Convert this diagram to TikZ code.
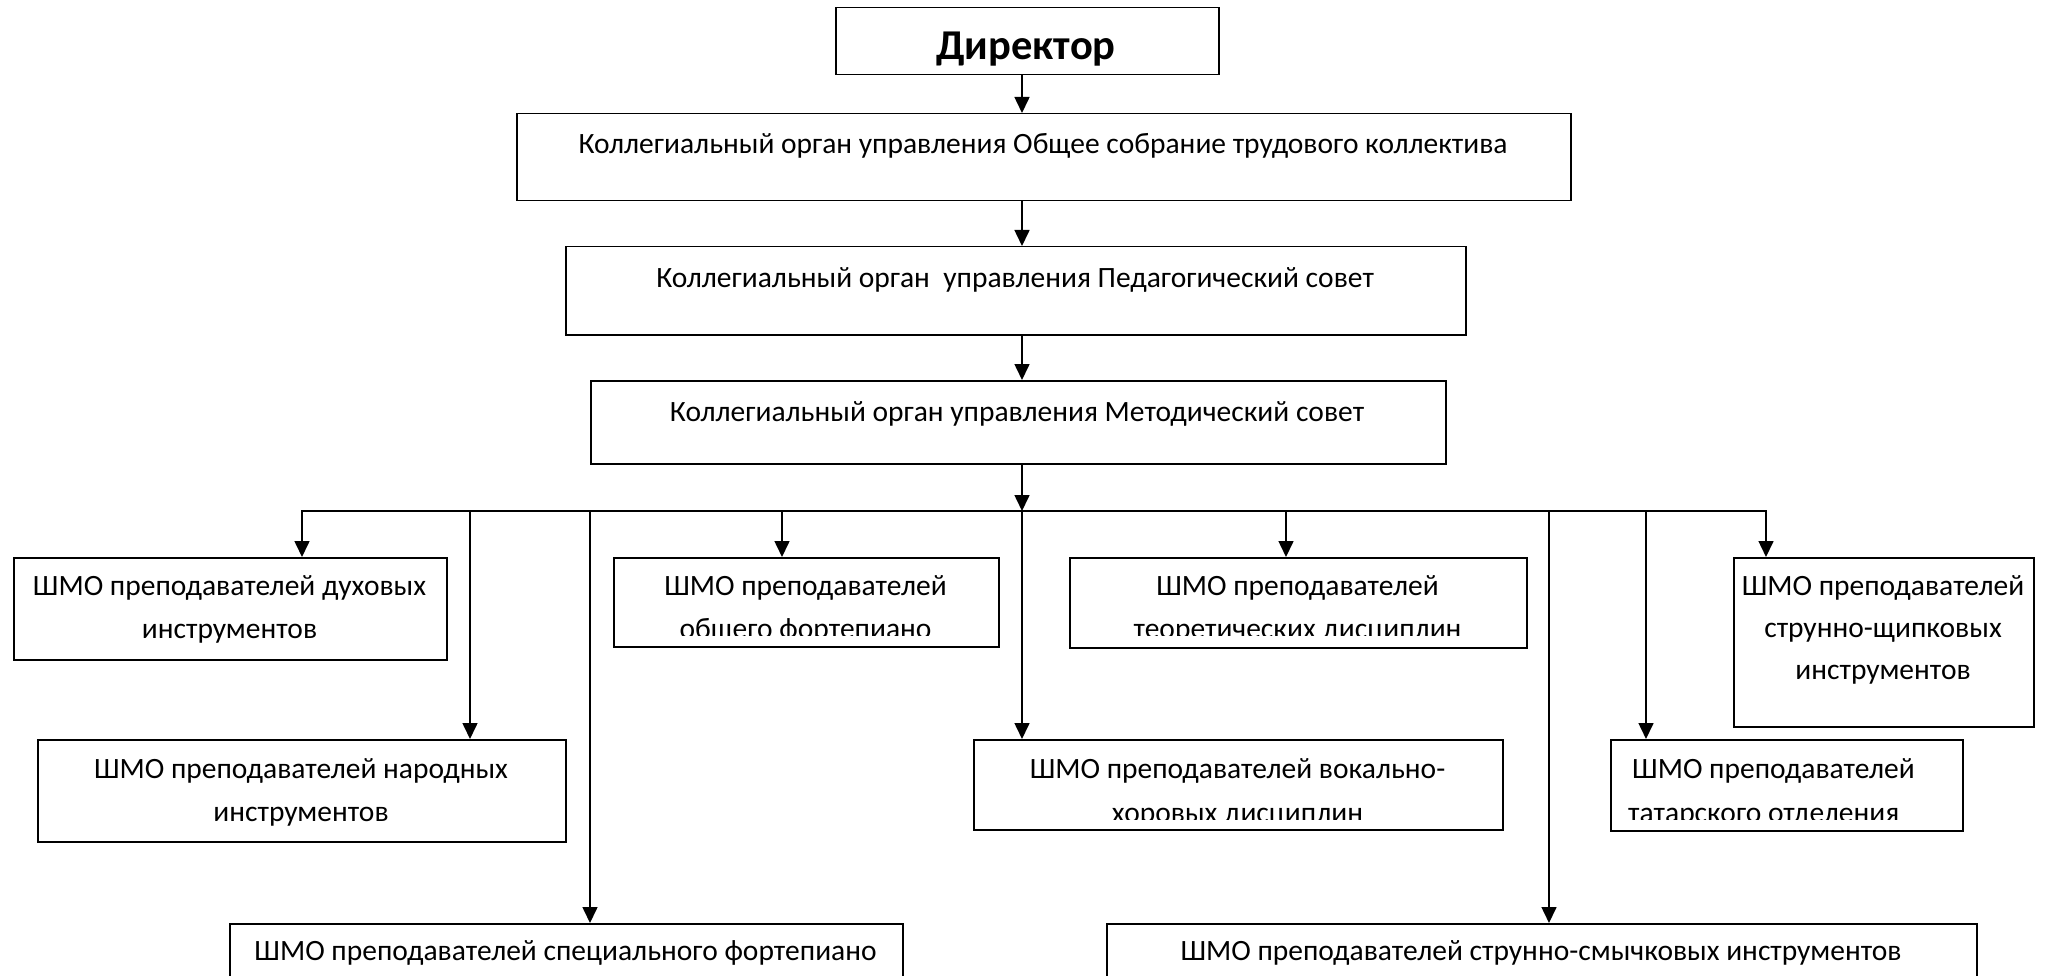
\documentclass[tikz,border=0pt]{standalone}
\usepackage{fontspec}
\setmainfont{Carlito}
\usetikzlibrary{arrows.meta}
\begin{document}
\begin{tikzpicture}[x=1pt,y=-1pt,
  box/.style={draw, line width=1.5pt, anchor=north west, inner sep=0pt},
  lbl/.style={font=\fontsize{29.5}{44}\selectfont, inner sep=0pt, anchor=base},
  arr/.style={line width=1.6pt, -{Triangle[width=15pt,length=16pt]}},
  ln/.style={line width=1.6pt, line cap=rect}]
\clip (0,0) rectangle (2045,976);
\fill[white] (0,0) rectangle (2045,976);
% boxes
\node[box, minimum width=383pt, minimum height=67pt] (dir) at (835,7) {};
\node[box, minimum width=1054pt, minimum height=87pt] (gen) at (516,113) {};
\node[box, minimum width=900pt, minimum height=88pt] (ped) at (565,246) {};
\node[box, minimum width=855pt, minimum height=83pt] (met) at (590,380) {};
\node[box, minimum width=433pt, minimum height=102pt] (duh) at (13,557) {};
\node[box, minimum width=385pt, minimum height=89pt] (obsh) at (613,557) {};
\node[box, minimum width=457pt, minimum height=90pt] (teor) at (1069,557) {};
\node[box, minimum width=300pt, minimum height=169pt] (shch) at (1733,557) {};
\node[box, minimum width=528pt, minimum height=102pt] (nar) at (37,739) {};
\node[box, minimum width=529pt, minimum height=90pt] (vok) at (973,739) {};
\node[box, minimum width=352pt, minimum height=91pt] (tat) at (1610,739) {};
\node[box, minimum width=673pt, minimum height=80pt] (spec) at (229,923) {};
\node[box, minimum width=870pt, minimum height=80pt] (smych) at (1106,923) {};
% texts
\node[lbl, font=\fontsize{42.5}{50}\selectfont\bfseries] (dirT) at (1026,60) {Директор};
\node[lbl] (genT) at (1043,154) {Коллегиальный орган управления Общее собрание трудового коллектива};
\node[lbl] (pedT) at (1015,288) {Коллегиальный орган\ \ управления Педагогический совет};
\node[lbl] (metT) at (1017,421) {Коллегиальный орган управления Методический совет};
\node[lbl] (duhA) at (229.5,595) {ШМО преподавателей духовых};
\node[lbl] (duhB) at (229.5,638) {инструментов};
\node[lbl] (narA) at (301,778) {ШМО преподавателей народных};
\node[lbl] (narB) at (301,821) {инструментов};
\node[lbl] (obshA) at (805.5,595) {ШМО преподавателей};
\node[lbl] (teorA) at (1297.5,595) {ШМО преподавателей};
\node[lbl] (shchA) at (1883,595) {ШМО преподавателей};
\node[lbl] (shchB) at (1883,637) {струнно-щипковых};
\node[lbl] (shchC) at (1883,679) {инструментов};
\node[lbl] (vokA) at (1237.5,778) {ШМО преподавателей вокально-};
\node[lbl, anchor=base west] (tatA) at (1632,778) {ШМО преподавателей};
\node[lbl] (specT) at (565.5,960) {ШМО преподавателей специального фортепиано};
\node[lbl] (smychT) at (1541,960) {ШМО преподавателей струнно-смычковых инструментов};
\begin{scope}
\clip (613,557) rectangle (998,635);
\node[lbl] (obshB) at (805.5,638) {общего фортепиано};
\end{scope}
\begin{scope}
\clip (1069,557) rectangle (1526,635);
\node[lbl] (teorB) at (1297.5,638) {теоретических дисциплин};
\end{scope}
\begin{scope}
\clip (973,739) rectangle (1502,819);
\node[lbl] (vokB) at (1237.5,822) {хоровых дисциплин};
\end{scope}
\begin{scope}
\clip (1610,739) rectangle (1962,819);
\node[lbl, anchor=base west] (tatB) at (1628,822) {татарского отделения};
\end{scope}
% connectors
\coordinate (sp) at (1022,0);
\draw[arr] (sp |- dir.south) -- (sp |- gen.north);
\draw[arr] (sp |- gen.south) -- (sp |- ped.north);
\draw[arr] (sp |- ped.south) -- (sp |- met.north);
\coordinate (b1) at (302,511);
\coordinate (b2) at (470,511);
\coordinate (b3) at (590,511);
\coordinate (b4) at (782,511);
\coordinate (b5) at (1022,511);
\coordinate (b6) at (1286,511);
\coordinate (b7) at (1549,511);
\coordinate (b8) at (1646,511);
\coordinate (b9) at (1766,511);
\draw[arr] (sp |- met.south) -- (b5);
\draw[ln] (b1) -- (b9);
\draw[arr] (b1) -- (b1 |- duh.north);
\draw[arr] (b2) -- (b2 |- nar.north);
\draw[arr] (b3) -- (b3 |- spec.north);
\draw[arr] (b4) -- (b4 |- obsh.north);
\draw[arr] (b5) -- (b5 |- vok.north);
\draw[arr] (b6) -- (b6 |- teor.north);
\draw[arr] (b7) -- (b7 |- smych.north);
\draw[arr] (b8) -- (b8 |- tat.north);
\draw[arr] (b9) -- (b9 |- shch.north);
\end{tikzpicture}
\end{document}
